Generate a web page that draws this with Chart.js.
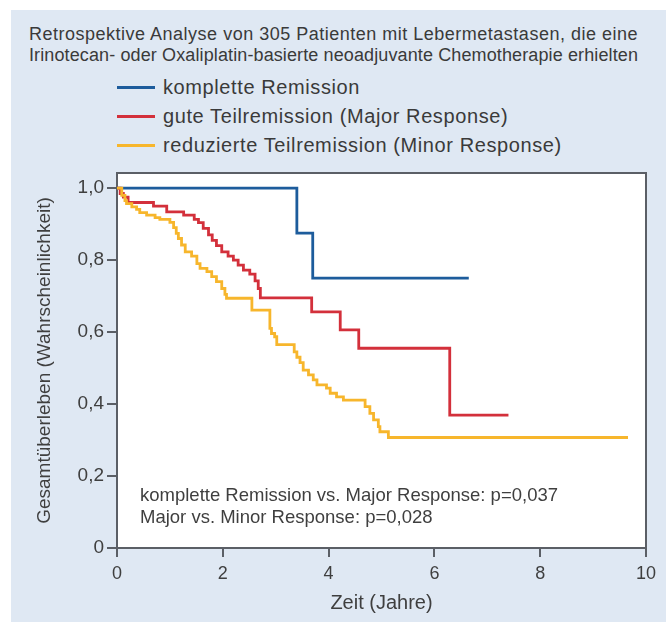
<!DOCTYPE html>
<html>
<head>
<meta charset="utf-8">
<script src="https://cdn.jsdelivr.net/npm/chart.js@4/dist/chart.umd.min.js"></script>
<style>
    html, body { margin: 0; padding: 0; background: #fff; }
    #wrap { position: relative; width: 666px; height: 622px; overflow: hidden; }
    #panel { position: absolute; left: 11px; top: 10px; right: 0; bottom: 0; background: #dfe8f3; }
    #chart { position: absolute; left: 0; top: 0; }
    .head { position: absolute; left: 29px; font-family: "Liberation Sans", Arial, sans-serif;
            font-size: 18px; color: #3a3a3a; white-space: nowrap; line-height: 20px; }
    #legend { position: absolute; left: 117px; top: 73px; font-family: "Liberation Sans", Arial, sans-serif;
              font-size: 20px; letter-spacing: 0.6px; color: #3a3a3a; }
    #legend .row { height: 29px; display: flex; align-items: center; white-space: nowrap; }
    #legend .sw { display: inline-block; width: 38px; height: 3px; margin-right: 8px; }
</style>
</head>
<body>
<div id="wrap">
    <div id="panel"></div>
    <div class="head" id="t1" style="top:24px"></div>
    <div class="head" id="t2" style="top:45px"></div>
    <div id="legend"></div>
    <canvas id="chart" width="666" height="622"></canvas>
</div>
<script>
const titleLines = [
    'Retrospektive Analyse von 305 Patienten mit Lebermetastasen, die eine',
    'Irinotecan- oder Oxaliplatin-basierte neoadjuvante Chemotherapie erhielten'
];
const seriesNames = [
    'komplette Remission',
    'gute Teilremission (Major Response)',
    'reduzierte Teilremission (Minor Response)'
];
const seriesColors = ['#1d5c9c', '#d3303b', '#f7b62c'];

// Kaplan-Meier Stufen: Zeitpunkt (Jahre) -> Überlebensrate danach
const kompletteT = [0, 3.40, 3.70, 6.65];
const kompletteS = [1.0, 0.875, 0.75, 0.75];

const majorT = [0, 0.06, 0.12, 0.21, 0.69, 0.94, 1.26, 1.46, 1.54, 1.63, 1.73, 1.80, 1.88, 1.98,
    2.10, 2.20, 2.29, 2.39, 2.51, 2.61, 2.67, 2.71, 3.68, 4.22, 4.57, 6.29, 7.40];
const majorS = [1.0, 0.985, 0.975, 0.960, 0.950, 0.934, 0.925, 0.913, 0.904, 0.888, 0.870, 0.855, 0.840, 0.823,
    0.811, 0.800, 0.786, 0.772, 0.761, 0.742, 0.721, 0.695, 0.656, 0.606, 0.555, 0.369, 0.369];

const minorT = [0, 0.09, 0.15, 0.18, 0.28, 0.37, 0.43, 0.56, 0.72, 0.81, 1.00, 1.07, 1.12, 1.16, 1.22, 1.29,
    1.41, 1.51, 1.57, 1.70, 1.79, 1.88, 1.98, 2.04, 2.07, 2.55, 2.89, 2.92, 2.98, 3.02, 3.35, 3.40, 3.46,
    3.52, 3.62, 3.71, 3.78, 3.96, 4.03, 4.15, 4.28, 4.69, 4.78, 4.85, 4.94, 4.97, 5.13, 9.66];
const minorS = [1.0, 0.980, 0.965, 0.957, 0.948, 0.941, 0.932, 0.925, 0.918, 0.913, 0.905, 0.890, 0.874, 0.860, 0.842, 0.823,
    0.811, 0.790, 0.777, 0.768, 0.754, 0.740, 0.721, 0.705, 0.694, 0.661, 0.610, 0.596, 0.587, 0.565, 0.545, 0.530, 0.515,
    0.494, 0.481, 0.467, 0.453, 0.444, 0.430, 0.420, 0.411, 0.393, 0.374, 0.356, 0.337, 0.323, 0.307, 0.307];

const xTicks = [0, 2, 4, 6, 8, 10];
const yTicks = [0, 0.2, 0.4, 0.6, 0.8, 1.0];
const yTickLabels = ['0', '0,2', '0,4', '0,6', '0,8', '1,0'];
const xTitle = 'Zeit (Jahre)';
const yTitle = 'Gesamtüberleben (Wahrscheinlichkeit)';
const pWerte = [
    'komplette Remission vs. Major Response: p=0,037',
    'Major vs. Minor Response: p=0,028'
];

// Kopfzeilen auf gleiche Breite bringen
['t1', 't2'].forEach((id, i) => {
    const el = document.getElementById(id);
    el.textContent = titleLines[i];
    const w = el.getBoundingClientRect().width;
    el.style.letterSpacing = ((609 - w) / titleLines[i].length).toFixed(3) + 'px';
});

document.getElementById('legend').innerHTML = seriesNames.map((n, i) => `
    <div class="row"><span class="sw" style="background:${seriesColors[i]}"></span>${n}</div>
`).join('');

const toPoints = (t, s) => t.map((v, i) => ({ x: v, y: s[i] }));
const axisGray = '#5b5f66';
const textGray = '#3f3f3f';
const font = 'Liberation Sans, Arial, sans-serif';

const framePlugin = {
    id: 'frame',
    beforeDraw(chart) {
        const { ctx, chartArea: a } = chart;
        ctx.save();
        ctx.fillStyle = '#ffffff';
        ctx.fillRect(a.left, a.top, a.right - a.left, a.bottom - a.top);
        ctx.restore();
    },
    afterDraw(chart) {
        const { ctx, chartArea: a } = chart;
        ctx.save();
        ctx.strokeStyle = axisGray;
        ctx.lineWidth = 2;
        ctx.beginPath();
        ctx.moveTo(a.left, a.top);
        ctx.lineTo(a.right, a.top);
        ctx.lineTo(a.right, a.bottom);
        ctx.stroke();
        ctx.restore();
    }
};

const pPlugin = {
    id: 'pwerte',
    afterDatasetsDraw(chart) {
        const { ctx, chartArea: a } = chart;
        ctx.save();
        ctx.fillStyle = textGray;
        ctx.font = `18.5px ${font}`;
        ctx.textBaseline = 'middle';
        pWerte.forEach((txt, i) => ctx.fillText(txt, a.left + 23, a.bottom - 52 + i * 22));
        ctx.restore();
    }
};

new Chart(document.getElementById('chart'), {
    type: 'line',
    data: {
        datasets: [
            { label: seriesNames[0], data: toPoints(kompletteT, kompletteS), borderColor: seriesColors[0] },
            { label: seriesNames[1], data: toPoints(majorT, majorS), borderColor: seriesColors[1] },
            { label: seriesNames[2], data: toPoints(minorT, minorS), borderColor: seriesColors[2] }
        ].reverse()
    },
    options: {
        responsive: false,
        animation: false,
        devicePixelRatio: 1,
        layout: { padding: { left: 0, top: 173, right: 20, bottom: 0 } },
        elements: {
            line: { borderWidth: 2.8, stepped: 'before', fill: false, tension: 0 },
            point: { radius: 0 }
        },
        plugins: { legend: { display: false }, tooltip: { enabled: false } },
        scales: {
            x: {
                type: 'linear',
                min: 0, max: 10,
                afterBuildTicks: (s) => { s.ticks = xTicks.map(v => ({ value: v })); },
                afterFit: (s) => { s.height = 74; },
                ticks: { color: textGray, font: { family: font, size: 18 }, padding: 6, maxRotation: 0 },
                grid: { drawOnChartArea: false, drawTicks: true, tickLength: 9, color: axisGray, lineWidth: 2 },
                border: { display: true, color: axisGray, width: 2 },
                title: { display: true, text: xTitle, color: textGray, font: { family: font, size: 20 }, padding: { bottom: 7 } }
            },
            y: {
                type: 'linear',
                min: 0, max: 1.042,
                afterBuildTicks: (s) => { s.ticks = yTicks.map(v => ({ value: v })); },
                afterFit: (s) => { s.width = 117; },
                ticks: {
                    color: textGray, font: { family: font, size: 19 }, padding: 3,
                    callback: (v) => yTickLabels[yTicks.findIndex(t => Math.abs(t - v) < 1e-6)]
                },
                grid: { drawOnChartArea: false, drawTicks: true, tickLength: 10, color: axisGray, lineWidth: 2 },
                border: { display: true, color: axisGray, width: 2 },
                title: { display: true, text: yTitle, color: textGray, font: { family: font, size: 19 }, padding: { top: 33 } }
            }
        }
    },
    plugins: [framePlugin, pPlugin]
});
</script>
</body>
</html>
